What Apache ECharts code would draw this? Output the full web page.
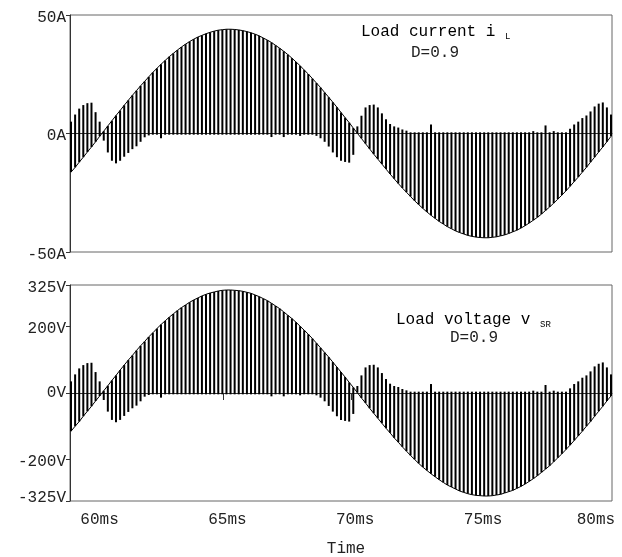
<!DOCTYPE html>
<html>
<head>
<meta charset="utf-8">
<script src="https://cdn.jsdelivr.net/npm/echarts@6/dist/echarts.min.js"></script>
<style>
  html, body { margin: 0; padding: 0; background: #fff; }
  #chart { width: 622px; height: 557px; }
</style>
</head>
<body>
<div id="chart"></div>
<script>
// Switching instants of the chopper (ms): first instant and spacing.
const sampleStart = 59.04;
const samplePeriod = 0.16;

// Axis ticks
const timeTicks = [60, 65, 70, 75, 80];
const currentTicks = [-50, 0, 50];
const voltageTicks = [-325, -200, 0, 200, 325];

// Load current i_L (A): sinusoidal envelope at each switching instant
const currentEnvelope = [
  -16.3, -14.3, -12.1, -10.0, -7.8, -5.7, -3.5, -1.2, 1.0, 3.2,
  5.4, 7.6, 9.7, 11.9, 14.0, 16.1, 18.1, 20.1, 22.0, 23.9,
  25.8, 27.5, 29.2, 30.8, 32.4, 33.8, 35.2, 36.5, 37.7, 38.8,
  39.8, 40.7, 41.4, 42.1, 42.7, 43.2, 43.6, 43.8, 44.0, 44.0,
  43.9, 43.7, 43.4, 43.0, 42.5, 41.9, 41.2, 40.3, 39.4, 38.4,
  37.2, 36.0, 34.7, 33.3, 31.8, 30.2, 28.6, 26.8, 25.1, 23.2,
  21.3, 19.4, 17.3, 15.3, 13.2, 11.1, 8.9, 6.7, 4.6, 2.3,
  0.1, -2.1, -4.3, -6.5, -8.7, -10.8, -12.9, -15.0, -17.1, -19.1,
  -21.1, -23.0, -24.8, -26.6, -28.4, -30.0, -31.6, -33.1, -34.5, -35.8,
  -37.1, -38.2, -39.3, -40.2, -41.1, -41.8, -42.4, -43.0, -43.4, -43.7,
  -43.9, -44.0, -44.0, -43.8, -43.6, -43.2, -42.8, -42.2, -41.5, -40.8,
  -39.9, -38.9, -37.8, -36.6, -35.4, -34.0, -32.5, -31.0, -29.4, -27.7,
  -26.0, -24.2, -22.3, -20.3, -18.4, -16.3, -14.3, -12.1, -10.0, -7.8,
  -5.7, -3.5, -1.2
];
// Load current during each off-interval (A)
const currentNotch = [
  5, 8, 10.5, 12, 12.8, 13, 9, 5, -3, -8,
  -11.5, -12.6, -11.5, -9.8, -8.2, -6.6, -5.4, -3.5, -1.6, -0.8,
  -0.5, -0.5, -2, -0.5, -0.5, -0.5, -0.5, -0.5, -0.5, -0.5,
  -0.5, -0.5, -0.5, -0.5, -0.5, -0.5, -0.5, -0.5, -0.5, -0.5,
  -0.5, -0.5, -0.5, -0.5, -0.5, -0.5, -0.5, -0.5, -0.5, -1.5,
  -0.5, -0.5, -1.5, -0.5, -0.5, -0.5, -1, -0.5, -0.5, -0.5,
  -1, -2, -3.5, -5.5, -8, -10, -11.5, -12, -12.3, -9,
  3, 7.5, 11, 12, 12.2, 11, 8.5, 6, 4, 3,
  2.5, 1.7, 1.2, 0.5, 0.5, 0.5, 0.5, 0.5, 3.8, 0.5,
  0.5, 0.5, 0.5, 0.5, 0.5, 0.5, 0.5, 0.5, 0.5, 0.5,
  0.5, 0.5, 0.5, 0.5, 0.5, 0.5, 0.5, 0.5, 0.5, 0.5,
  0.5, 0.5, 0.5, 1, 0.5, 0.5, 3.4, 0.5, 1, 0.5,
  0.5, 0.5, 2, 3.8, 5, 6.5, 7.6, 9.3, 11.4, 12.6,
  13.1, 11, 8
];

// Load voltage v_SR (V): sinusoidal envelope at each switching instant
const voltageEnvelope = [
  -115, -100, -86, -70, -55, -40, -24, -9, 7, 22,
  38, 53, 69, 84, 99, 113, 128, 142, 155, 169,
  181, 194, 206, 217, 228, 238, 248, 257, 265, 273,
  280, 286, 292, 297, 301, 304, 307, 309, 310, 310,
  309, 308, 306, 303, 300, 295, 290, 284, 278, 270,
  262, 254, 244, 234, 224, 213, 201, 189, 177, 164,
  150, 136, 122, 108, 93, 78, 63, 48, 32, 17,
  1, -15, -30, -46, -61, -76, -91, -106, -120, -135,
  -148, -162, -175, -188, -200, -212, -223, -233, -243, -252,
  -261, -269, -277, -283, -289, -295, -299, -303, -306, -308,
  -309, -310, -310, -309, -307, -305, -301, -297, -293, -287,
  -281, -274, -266, -258, -249, -239, -229, -219, -207, -195,
  -183, -170, -157, -143, -129, -115, -100, -86, -70, -55,
  -40, -24, -9
];
// Load voltage during each off-interval (V)
const voltageNotch = [
  35, 56, 74, 84, 90, 91, 63, 35, -21, -56,
  -81, -88, -81, -69, -57, -46, -38, -25, -11, -6,
  -4, -4, -14, -4, -4, -4, -4, -4, -4, -4,
  -4, -4, -4, -4, -4, -4, -4, -4, -4, -4,
  -4, -4, -4, -4, -4, -4, -4, -4, -4, -10,
  -4, -4, -10, -4, -4, -4, -7, -4, -4, -4,
  -7, -14, -25, -39, -56, -70, -81, -84, -86, -63,
  21, 53, 77, 84, 85, 77, 60, 42, 28, 21,
  18, 12, 8, 4, 4, 4, 4, 4, 27, 4,
  4, 4, 4, 4, 4, 4, 4, 4, 4, 4,
  4, 4, 4, 4, 4, 4, 4, 4, 4, 4,
  4, 4, 4, 7, 4, 4, 24, 4, 7, 4,
  4, 4, 14, 27, 35, 46, 53, 65, 80, 88,
  92, 77, 56
];

const MONO = "'Liberation Mono', 'DejaVu Sans Mono', monospace";
const TEXT = '#222';
const labelFont = { fontFamily: MONO, fontSize: 16, color: TEXT };

function timeAt(k) { return sampleStart + k * samplePeriod; }
function envelopeSeries(env) { return env.map((v, k) => [timeAt(k), v]); }
function spikeSeries(env, notch) { return env.map((v, k) => [timeAt(k), v, notch[k]]); }

// One vertical stroke per switching instant, from the envelope to the off-state value
function renderSpike(params, api) {
  const t = api.value(0);
  const a = api.coord([t, api.value(1)]);
  const b = api.coord([t, api.value(2)]);
  return {
    type: 'line',
    shape: { x1: a[0], y1: a[1], x2: b[0], y2: b[1] },
    style: { stroke: '#000', lineWidth: 2 }
  };
}

function xAxisFor(gridIndex, withLabels) {
  const lastTick = timeTicks[timeTicks.length - 1];
  return {
    type: 'value', gridIndex, min: 59, max: 80.2,
    axisLine: { show: true, lineStyle: { color: '#333', width: 1 } },
    axisTick: withLabels
      ? { show: true, customValues: timeTicks, length: 7, lineStyle: { color: '#333' } }
      : { show: false },
    axisLabel: withLabels
      ? {
          show: true, customValues: timeTicks, margin: 11, ...labelFont,
          // labels sit a little right of their tick; the last one is pulled inside
          formatter: v => (v === lastTick ? '{e|' : '{t|') + v + 'ms}',
          rich: {
            t: { ...labelFont, padding: [0, 0, 0, 8] },
            e: { ...labelFont, padding: [0, 22, 0, 0] }
          }
        }
      : { show: false },
    splitLine: { show: false }
  };
}

function yAxisFor(gridIndex, lim, ticks, unit) {
  return {
    type: 'value', gridIndex, min: -lim, max: lim,
    axisLine: { show: true, lineStyle: { color: '#333', width: 1 } },
    axisTick: { show: true, customValues: ticks, length: 4, lineStyle: { color: '#333' } },
    axisLabel: {
      show: true, customValues: ticks, margin: 4, ...labelFont,
      // bottom voltage label is lifted off the time axis, zero volts stays centred,
      // the others drop slightly below their tick
      formatter: v => {
        let tag = 'd';
        if (unit === 'V' && v === -lim) tag = 'u';
        else if (unit === 'V' && v === 0) tag = 'c';
        return '{' + tag + '|' + v + unit + '}';
      },
      rich: {
        d: { ...labelFont, padding: [5, 0, 0, 0] },
        c: { ...labelFont },
        u: { ...labelFont, padding: [0, 0, 7, 0] }
      }
    },
    splitLine: { show: false }
  };
}

const chart = echarts.init(document.getElementById('chart'), null, { renderer: 'canvas' });

chart.setOption({
  animation: false,
  backgroundColor: '#fff',
  grid: [
    { left: 70, top: 15, width: 542, height: 237, show: true, borderColor: '#666', borderWidth: 1,
      outerBoundsMode: 'none', containLabel: false },
    { left: 70, top: 285, width: 542, height: 216, show: true, borderColor: '#666', borderWidth: 1,
      outerBoundsMode: 'none', containLabel: false }
  ],
  xAxis: [xAxisFor(0, false), xAxisFor(1, true)],
  yAxis: [
    yAxisFor(0, 50, currentTicks, 'A'),
    yAxisFor(1, 325, voltageTicks, 'V')
  ],
  series: [
    {
      type: 'custom', xAxisIndex: 0, yAxisIndex: 0, clip: true,
      renderItem: renderSpike, encode: { x: 0, y: [1, 2] },
      data: spikeSeries(currentEnvelope, currentNotch)
    },
    {
      type: 'line', xAxisIndex: 0, yAxisIndex: 0, showSymbol: false, clip: true,
      lineStyle: { color: '#000', width: 1 },
      data: envelopeSeries(currentEnvelope)
    },
    {
      type: 'custom', xAxisIndex: 1, yAxisIndex: 1, clip: true,
      renderItem: renderSpike, encode: { x: 0, y: [1, 2] },
      data: spikeSeries(voltageEnvelope, voltageNotch)
    },
    {
      type: 'line', xAxisIndex: 1, yAxisIndex: 1, showSymbol: false, clip: true,
      lineStyle: { color: '#000', width: 1 },
      data: envelopeSeries(voltageEnvelope)
    }
  ],
  graphic: [
    {
      type: 'text', x: 361, y: 32,
      style: {
        text: '{m|Load current i }{s|L}',
        verticalAlign: 'middle',
        rich: {
          m: { fontFamily: MONO, fontSize: 16, color: TEXT, lineHeight: 18 },
          s: { fontFamily: MONO, fontSize: 9, color: TEXT, lineHeight: 10, verticalAlign: 'bottom' }
        }
      }
    },
    {
      type: 'text', x: 435, y: 53,
      style: { text: 'D=0.9', font: '16px ' + MONO, fill: TEXT, align: 'center', verticalAlign: 'middle' }
    },
    {
      type: 'text', x: 396, y: 320,
      style: {
        text: '{m|Load voltage v }{s|SR}',
        verticalAlign: 'middle',
        rich: {
          m: { fontFamily: MONO, fontSize: 16, color: TEXT, lineHeight: 18 },
          s: { fontFamily: MONO, fontSize: 9, color: TEXT, lineHeight: 10, verticalAlign: 'bottom' }
        }
      }
    },
    {
      type: 'text', x: 474, y: 338,
      style: { text: 'D=0.9', font: '16px ' + MONO, fill: TEXT, align: 'center', verticalAlign: 'middle' }
    },
    {
      type: 'text', x: 346, y: 549,
      style: { text: 'Time', font: '16px ' + MONO, fill: TEXT, align: 'center', verticalAlign: 'middle' }
    }
  ]
});
</script>
</body>
</html>
